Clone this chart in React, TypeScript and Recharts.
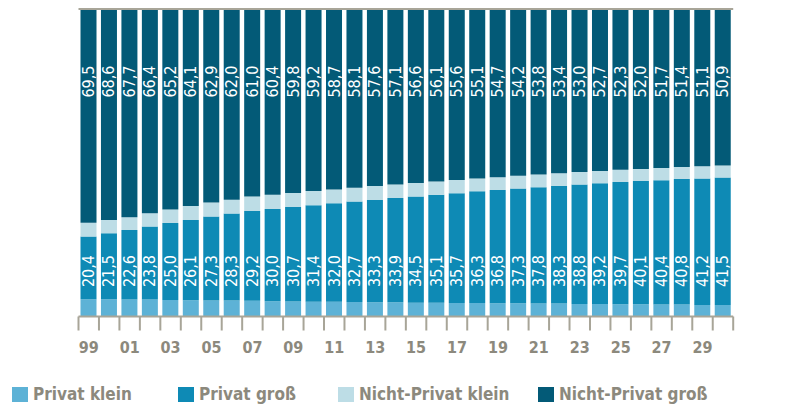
import React from 'react';
import { BarChart, Bar, XAxis, YAxis, Legend, LabelList, ReferenceLine } from 'recharts';

// ---- data ----
const years = [
  '99', '00', '01', '02', '03', '04', '05', '06', '07', '08', '09', '10', '11', '12', '13', '14',
  '15', '16', '17', '18', '19', '20', '21', '22', '23', '24', '25', '26', '27', '28', '29', '30',
];
const privatKlein = [
  5.6, 5.6, 5.5, 5.5, 5.4, 5.3, 5.2, 5.2, 5.1, 5.0, 4.9, 4.8, 4.8, 4.7, 4.6, 4.6,
  4.5, 4.5, 4.4, 4.4, 4.3, 4.3, 4.2, 4.2, 4.1, 4.1, 4.0, 4.0, 3.9, 3.9, 3.7, 3.7,
];
const privatGross = [
  20.4, 21.5, 22.6, 23.8, 25.0, 26.1, 27.3, 28.3, 29.2, 30.0, 30.7, 31.4, 32.0, 32.7, 33.3, 33.9,
  34.5, 35.1, 35.7, 36.3, 36.8, 37.3, 37.8, 38.3, 38.8, 39.2, 39.7, 40.1, 40.4, 40.8, 41.2, 41.5,
];
const nichtPrivatKlein = [
  4.5, 4.3, 4.2, 4.3, 4.4, 4.5, 4.6, 4.5, 4.7, 4.6, 4.6, 4.6, 4.5, 4.5, 4.5, 4.4,
  4.4, 4.3, 4.3, 4.2, 4.2, 4.2, 4.2, 4.1, 4.1, 4.0, 4.0, 3.9, 4.0, 3.9, 4.0, 3.9,
];
const nichtPrivatGross = [
  69.5, 68.6, 67.7, 66.4, 65.2, 64.1, 62.9, 62.0, 61.0, 60.4, 59.8, 59.2, 58.7, 58.1, 57.6, 57.1,
  56.6, 56.1, 55.6, 55.1, 54.7, 54.2, 53.8, 53.4, 53.0, 52.7, 52.3, 52.0, 51.7, 51.4, 51.1, 50.9,
];
const seriesNames = ['Privat klein', 'Privat groß', 'Nicht-Privat klein', 'Nicht-Privat groß'];

const data = years.map((y, i) => ({
  year: y,
  pk: privatKlein[i],
  pg: privatGross[i],
  npk: nichtPrivatKlein[i],
  npg: nichtPrivatGross[i],
}));

// ---- layout / style ----
const W = 797;
const H = 405;
const MARGIN = { top: 9, right: 63.8, left: 78.5, bottom: 0 };
const LEGEND_H = 22;
const XAXIS_H = 66.5;
const PLOT_TOP = MARGIN.top;
const PLOT_BOTTOM = H - MARGIN.bottom - LEGEND_H - XAXIS_H;
const BAND = (W - MARGIN.left - MARGIN.right) / years.length;

const C_PK = '#5db2d6';
const C_PG = '#0e8ab5';
const C_NPK = '#bddde6';
const C_NPG = '#035a77';
const AXIS = '#a8a598';
const TEXT_GRAY = '#8c897d';
const FONT = "'DejaVu Sans Condensed', 'DejaVu Sans', sans-serif";

const fmt = (v: number) => v.toFixed(1).replace('.', ',');

const makeLabel = (pos: 'top' | 'bottom') => (props: any) => {
  const { x, width, value } = props;
  const cx = Number(x) + Number(width) / 2;
  const cy = pos === 'top' ? PLOT_TOP + 72.5 : PLOT_BOTTOM - 45.5;
  return (
    <text
      x={cx}
      y={cy}
      transform={`rotate(-90 ${cx} ${cy})`}
      textAnchor="middle"
      dominantBaseline="central"
      fill="#ffffff"
      fontSize={16}
      fontFamily={FONT}
      fontStretch="condensed"
    >
      {fmt(Number(value))}
    </text>
  );
};

const AxisTick = (props: any) => {
  const { x, y, payload, index } = props;
  const i = payload && payload.index != null ? payload.index : index;
  const half = BAND / 2;
  return (
    <g>
      <line x1={x - half} x2={x - half} y1={y} y2={y + 14} stroke={AXIS} strokeWidth={2} />
      {i === years.length - 1 && (
        <line x1={x + half} x2={x + half} y1={y} y2={y + 14} stroke={AXIS} strokeWidth={2} />
      )}
      {i % 2 === 0 && (
        <text
          x={x}
          y={y + 30.5}
          textAnchor="middle"
          dominantBaseline="central"
          fill={TEXT_GRAY}
          fontSize={16}
          fontWeight="bold"
          fontFamily={FONT}
          fontStretch="condensed"
        >
          {payload.value}
        </text>
      )}
    </g>
  );
};

const LEGEND_ITEM_W = [166, 160, 200, 220];

const LegendContent = (props: any) => {
  const payload = [...(props.payload || [])].sort(
    (a: any, b: any) => seriesNames.indexOf(a.value) - seriesNames.indexOf(b.value)
  );
  return (
    <div style={{ display: 'flex', alignItems: 'center', height: LEGEND_H, paddingLeft: 12 }}>
      {payload.map((e: any, i: number) => (
        <div key={i} style={{ display: 'flex', alignItems: 'center', width: LEGEND_ITEM_W[i] }}>
          <span style={{ display: 'inline-block', width: 16, height: 15, background: e.color, marginRight: 5 }} />
          <span
            style={{
              fontFamily: FONT,
              fontStretch: 'condensed',
              fontWeight: 'bold',
              fontSize: 17,
              color: TEXT_GRAY,
              lineHeight: '22px',
              whiteSpace: 'nowrap',
            }}
          >
            {e.value}
          </span>
        </div>
      ))}
    </div>
  );
};

export default function App() {
  return (
    <div style={{ width: W, height: H, background: '#ffffff' }}>
      <style>{'body{margin:0;}'}</style>
      <BarChart width={W} height={H} data={data} margin={MARGIN}>
        <YAxis type="number" domain={[0, 100]} hide allowDataOverflow />
        <XAxis
          dataKey="year"
          height={XAXIS_H}
          interval={0}
          tickSize={0}
          tickMargin={0}
          tickLine={false}
          axisLine={{ stroke: AXIS, strokeWidth: 2 }}
          tick={<AxisTick />}
        />
        <Legend
          verticalAlign="bottom"
          align="left"
          content={<LegendContent />}
          wrapperStyle={{ left: 0, width: W, bottom: 0, height: LEGEND_H }}
        />
        <Bar dataKey="pk" name={seriesNames[0]} stackId="a" fill={C_PK} barSize={16} isAnimationActive={false} />
        <Bar dataKey="pg" name={seriesNames[1]} stackId="a" fill={C_PG} barSize={16} isAnimationActive={false}>
          <LabelList dataKey="pg" content={makeLabel('bottom')} />
        </Bar>
        <Bar dataKey="npk" name={seriesNames[2]} stackId="a" fill={C_NPK} barSize={16} isAnimationActive={false} />
        <Bar dataKey="npg" name={seriesNames[3]} stackId="a" fill={C_NPG} barSize={16} isAnimationActive={false}>
          <LabelList dataKey="npg" content={makeLabel('top')} />
        </Bar>
        <ReferenceLine y={100} stroke={AXIS} strokeWidth={2} />
      </BarChart>
    </div>
  );
}
